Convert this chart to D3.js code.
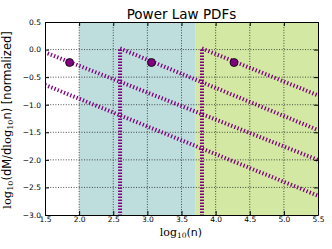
<!DOCTYPE html>
<html><head><meta charset="utf-8">
<script src="https://cdn.jsdelivr.net/npm/d3@7"></script>
<style>
html,body{margin:0;padding:0;background:#fff;}
svg{display:block;}
</style></head>
<body>
<script>
// ---- data ----
const xTicks = [1.5, 2.0, 2.5, 3.0, 3.5, 4.0, 4.5, 5.0, 5.5];
const yTicks = [-3.0, -2.5, -2.0, -1.5, -1.0, -0.5, 0.0, 0.5];
const bandCyan = [2.0, 3.7];
const bandGreen = [3.7, 5.5];
// power-law lines (endpoints)
const line1X = [1.4, 5.5], line1Y = [0.0, -2.0];
const line2X = [1.5, 5.5], line2Y = [-0.64, -2.65];
const line3X = [2.6, 5.5], line3Y = [0.02, -1.46];
const line4X = [3.8, 5.5], line4Y = [0.02, -0.83];
const vlineX = [2.6, 3.8];
const vlineY = [0.0, -3.0];
const peakX = [1.86, 3.06, 4.27];
const peakY = [-0.235, -0.235, -0.235];

const W = 332, H = 249;
const svg = d3.select("body").append("svg").attr("width", W).attr("height", H);
const x = d3.scaleLinear().domain([1.5, 5.5]).range([45, 318]);
const y = d3.scaleLinear().domain([-3.0, 0.5]).range([215, 22]);

svg.append("clipPath").attr("id","pc").append("rect")
  .attr("x", x(1.5)).attr("y", y(0.5)).attr("width", x(5.5)-x(1.5)).attr("height", y(-3)-y(0.5));

// bands
svg.append("rect").attr("x", x(bandCyan[0])).attr("width", x(bandCyan[1])-x(bandCyan[0]))
  .attr("y", y(0.5)).attr("height", y(-3)-y(0.5)).attr("fill", "#bedddd");
svg.append("rect").attr("x", x(bandGreen[0])).attr("width", x(bandGreen[1])-x(bandGreen[0]))
  .attr("y", y(0.5)).attr("height", y(-3)-y(0.5)).attr("fill", "#d2e8a3");

// grid
const grid = svg.append("g").attr("stroke", "#222").attr("stroke-width", 0.8).attr("stroke-dasharray", "1,1.6");
xTicks.slice(1,-1).forEach(t => grid.append("line").attr("x1", x(t)).attr("x2", x(t)).attr("y1", y(0.5)).attr("y2", y(-3)));
yTicks.slice(1,-1).forEach(t => grid.append("line").attr("y1", y(t)).attr("y2", y(t)).attr("x1", x(1.5)).attr("x2", x(5.5)));

// lines
const g = svg.append("g").attr("clip-path", "url(#pc)");
const lineGen = d3.line().x(d => x(d[0])).y(d => y(d[1]));
[[line1X,line1Y],[line2X,line2Y],[line3X,line3Y],[line4X,line4Y]].forEach(([xs,ys]) => {
  g.append("path").attr("d", lineGen(xs.map((v,i)=>[v, ys[i]])))
    .attr("fill","none").attr("stroke","#800080").attr("stroke-width",4).attr("stroke-dasharray","1.3,2.1");
});
vlineX.forEach(v => {
  g.append("path").attr("d", lineGen(vlineY.map(yy => [v, yy])))
    .attr("fill","none").attr("stroke","#800080").attr("stroke-width",4).attr("stroke-dasharray","1.4,1.6");
});
// peaks
g.selectAll("circle.pk").data(peakX).join("circle")
  .attr("cx", d => x(d)).attr("cy", (d,i) => y(peakY[i])).attr("r", 4)
  .attr("fill", "#800080").attr("stroke", "#000").attr("stroke-width", 0.8);

// axes
const fmt = d3.format(".1f");
const axB = svg.append("g").attr("transform", `translate(0,${y(-3)})`)
  .call(d3.axisBottom(x).tickValues(xTicks).tickFormat(fmt).tickSizeInner(-4).tickSizeOuter(0).tickPadding(2));
const axL = svg.append("g").attr("transform", `translate(${x(1.5)},0)`)
  .call(d3.axisLeft(y).tickValues(yTicks).tickFormat(fmt).tickSizeInner(-4).tickSizeOuter(0).tickPadding(4));
const axT = svg.append("g").attr("transform", `translate(0,${y(0.5)})`)
  .call(d3.axisTop(x).tickValues(xTicks).tickFormat("").tickSizeInner(-4).tickSizeOuter(0));
const axR = svg.append("g").attr("transform", `translate(${x(5.5)},0)`)
  .call(d3.axisRight(y).tickValues(yTicks).tickFormat("").tickSizeInner(-4).tickSizeOuter(0));
[axB, axL, axT, axR].forEach(a => {
  a.select(".domain").attr("stroke", "#000").attr("stroke-width", 1);
  a.selectAll(".tick line").attr("stroke", "#000").attr("stroke-width", 1);
  a.selectAll("text").attr("font-family", "DejaVu Sans").attr("font-size", 7.5).attr("fill", "#000");
});

// title
svg.append("text").attr("x", 181.5).attr("y", 19).attr("text-anchor", "middle")
  .attr("font-family", "DejaVu Sans").attr("font-size", 13.5).text("Power Law PDFs");

// x label
const xl = svg.append("text").attr("x", 181).attr("y", 236).attr("text-anchor", "middle")
  .attr("font-size", 11).attr("fill", "#000");
xl.append("tspan").attr("font-family", "DejaVu Serif").text("log");
xl.append("tspan").attr("font-family", "DejaVu Serif").attr("font-size", 7.5).attr("dy", 2).text("10");
xl.append("tspan").attr("font-family", "DejaVu Sans").attr("dy", -2).text("(n)");

// y label
const yl = svg.append("text").attr("transform", `translate(11,120) rotate(-90)`).attr("text-anchor", "middle")
  .attr("font-size", 11.5).attr("fill", "#000");
yl.append("tspan").attr("font-family", "DejaVu Serif").text("log");
yl.append("tspan").attr("font-family", "DejaVu Serif").attr("font-size", 8).attr("dy", 2).text("10");
yl.append("tspan").attr("font-family", "DejaVu Sans").attr("dy", -2).text("(dM/d");
yl.append("tspan").attr("font-family", "DejaVu Serif").text("log");
yl.append("tspan").attr("font-family", "DejaVu Serif").attr("font-size", 8).attr("dy", 2).text("10");
yl.append("tspan").attr("font-family", "DejaVu Sans").attr("dy", -2).text("n) [normalized]");
</script>
</body></html>
